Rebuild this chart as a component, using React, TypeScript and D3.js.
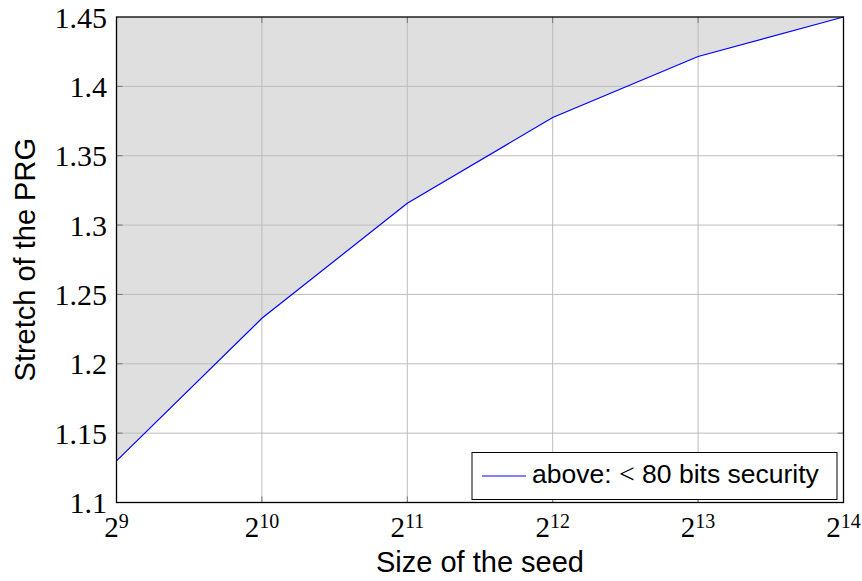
import React from "react";
import * as d3 from "d3";

const exponents = [9, 10, 11, 12, 13, 14];
const stretch = [1.13, 1.2328, 1.3157, 1.3775, 1.4215, 1.45];
const yTicks = [1.1, 1.15, 1.2, 1.25, 1.3, 1.35, 1.4, 1.45];
const yTickLabels = ["1.1", "1.15", "1.2", "1.25", "1.3", "1.35", "1.4", "1.45"];
const legendLabel = "above: ";
const legendMath = "<";
const legendRest = " 80 bits security";

const W = 862;
const H = 581;
const L = 116.5;
const R = 843.5;
const T = 17;
const B = 502.5;

export default function App() {
  const x = d3.scaleLinear().domain([9, 14]).range([L, R]);
  const y = d3.scaleLinear().domain([1.1, 1.45]).range([B, T]);
  const pts: [number, number][] = exponents.map((e, i) => [e, stretch[i]]);
  const line = d3
    .line<[number, number]>()
    .x((d) => x(d[0]))
    .y((d) => y(d[1]));
  const area = d3
    .area<[number, number]>()
    .x((d) => x(d[0]))
    .y0(() => y(1.45))
    .y1((d) => y(d[1]));
  const serif = "'Liberation Serif', 'Times New Roman', serif";
  const sans = "'Liberation Sans', Arial, sans-serif";
  const tickLen = 6;
  return (
    <svg
      width={W}
      height={H}
      style={{ position: "absolute", left: 0, top: 0, background: "#fff" }}
    >
      <path d={area(pts) || ""} fill="#dfdfdf" />
      {exponents.slice(1, -1).map((e) => (
        <line key={"gx" + e} x1={x(e)} x2={x(e)} y1={T} y2={B} stroke="#bdbdbd" strokeWidth={1} />
      ))}
      {yTicks.slice(1, -1).map((v) => (
        <line key={"gy" + v} x1={L} x2={R} y1={y(v)} y2={y(v)} stroke="#bdbdbd" strokeWidth={1} />
      ))}
      {exponents.slice(1, -1).map((e) => (
        <g key={"tx" + e}>
          <line x1={x(e)} x2={x(e)} y1={B} y2={B - tickLen} stroke="#777" strokeWidth={1} />
          <line x1={x(e)} x2={x(e)} y1={T} y2={T + tickLen} stroke="#777" strokeWidth={1} />
        </g>
      ))}
      {yTicks.slice(1, -1).map((v) => (
        <g key={"ty" + v}>
          <line x1={L} x2={L + tickLen} y1={y(v)} y2={y(v)} stroke="#777" strokeWidth={1} />
          <line x1={R} x2={R - tickLen} y1={y(v)} y2={y(v)} stroke="#777" strokeWidth={1} />
        </g>
      ))}
      <path d={line(pts) || ""} fill="none" stroke="#0000ff" strokeWidth={1.2} />
      <rect x={L} y={T} width={R - L} height={B - T} fill="none" stroke="#000" strokeWidth={1.3} />
      {yTicks.map((v, i) => (
        <text
          key={"yl" + v}
          x={107}
          y={y(v) + 10.5}
          textAnchor="end"
          fontFamily={serif}
          fontSize={30}
          fill="#000"
        >
          {yTickLabels[i]}
        </text>
      ))}
      {exponents.map((e) => (
        <text
          key={"xl" + e}
          x={x(e)}
          y={537}
          textAnchor="middle"
          fontFamily={serif}
          fontSize={29}
          fill="#000"
        >
          2
          <tspan fontSize={20} dy={-9}>
            {e}
          </tspan>
        </text>
      ))}
      <text x={(L + R) / 2} y={572} textAnchor="middle" fontFamily={sans} fontSize={29} fill="#000">
        Size of the seed
      </text>
      <text
        transform={`translate(35,${(T + B) / 2}) rotate(-90)`}
        textAnchor="middle"
        fontFamily={sans}
        fontSize={29}
        fill="#000"
      >
        Stretch of the PRG
      </text>
      <rect x={472} y={452.5} width={365} height={47} fill="#fff" stroke="#000" strokeWidth={1} />
      <line x1={482} x2={526} y1={476} y2={476} stroke="#0000ff" strokeWidth={1} />
      <text x={532} y={483} fontFamily={sans} fontSize={26.5} fill="#000">
        {legendLabel}
        <tspan fontFamily={serif} fontSize={28}>
          {legendMath}
        </tspan>
        {legendRest}
      </text>
    </svg>
  );
}
